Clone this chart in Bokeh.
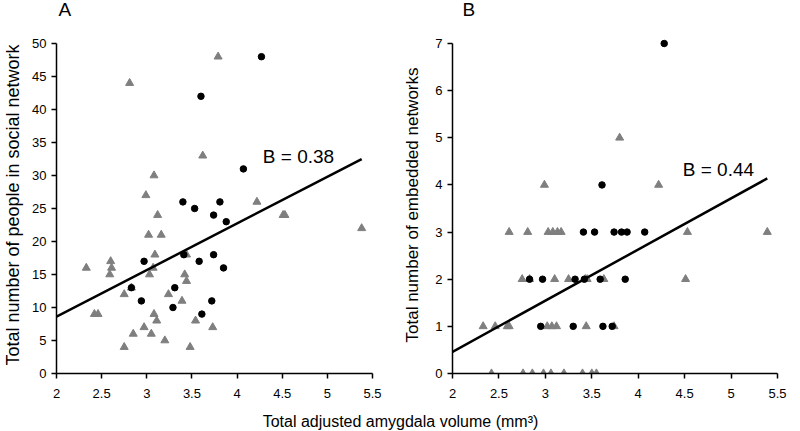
from bokeh.plotting import figure
from bokeh.layouts import row, column
from bokeh.models import Range1d, FixedTicker, NumeralTickFormatter, Label
from bokeh.embed import file_html
from bokeh.resources import INLINE
from bokeh.core.properties import value

FONT = "Liberation Sans"

# ---------------- data ----------------
x_ticks = [2, 2.5, 3, 3.5, 4, 4.5, 5, 5.5]
a_y_ticks = [0, 5, 10, 15, 20, 25, 30, 35, 40, 45, 50]
b_y_ticks = [0, 1, 2, 3, 4, 5, 6, 7]

# Panel A: circles (black)
a_circ_x = [3.40, 3.53, 3.81, 3.74, 3.88, 3.41, 2.97, 3.58, 3.74, 3.85,
            2.83, 3.31, 2.94, 3.29, 3.72, 3.61, 3.60, 4.27, 4.07]
a_circ_y = [26, 25, 26, 24, 23, 18, 17, 17, 18, 16,
            13, 13, 11, 10, 11, 9, 42, 48, 31]
# Panel A: triangles (grey)
a_tri_x = [2.99, 3.12, 4.22, 4.51, 4.53, 3.02, 3.16, 3.09, 3.44, 2.60,
           2.61, 2.59, 3.07, 3.03, 3.42, 3.44, 2.83, 2.75, 3.24, 3.39,
           3.08, 3.11, 3.54, 2.97, 3.73, 2.85, 3.05, 3.20, 2.75, 3.48,
           2.33, 2.42, 2.46, 5.38, 2.81, 3.79, 3.62, 3.08]
a_tri_y = [27, 24, 26, 24, 24, 21, 21, 18, 18, 17,
           16, 15, 16, 15, 15, 14, 13, 12, 12, 11,
           9, 8, 8, 7, 7, 6, 6, 5, 4, 4,
           16, 9, 9, 22, 44, 48, 33, 30]
a_fit_intercept_at_2 = 8.6
a_fit_slope = 7.07
a_fit_x = [2.0, 5.38]

# Panel B: circles (black)
b_circ_x = [4.28, 3.61, 3.41, 3.53, 3.74, 3.82, 3.88, 4.07, 2.83, 2.97,
            3.32, 3.42, 3.59, 3.86, 2.95, 3.30, 3.62, 3.72]
b_circ_y = [7, 4, 3, 3, 3, 3, 3, 3, 2, 2,
            2, 2, 2, 2, 1, 1, 1, 1]
# Panel B: triangles (grey)
b_tri_x = [3.80, 2.99, 4.22,
           2.61, 2.81, 3.03, 3.08, 3.13, 3.17, 4.53, 5.39,
           2.75, 2.83, 3.10, 3.25, 3.43, 3.45, 3.63, 4.51,
           2.33, 2.46, 2.59, 2.61, 3.02, 3.07, 3.12, 3.44, 3.74,
           2.42, 2.76, 2.86, 2.98, 3.06, 3.20, 3.40, 3.50, 3.55]
b_tri_y = [5, 4, 4,
           3, 3, 3, 3, 3, 3, 3, 3,
           2, 2, 2, 2, 2, 2, 2, 2,
           1, 1, 1, 1, 1, 1, 1, 1, 1,
           0, 0, 0, 0, 0, 0, 0, 0, 0]
b_fit_intercept_at_2 = 0.46
b_fit_slope = 1.085
b_fit_x = [2.0, 5.39]

panel_letters = ["A", "B"]
a_label = "B = 0.38"
b_label = "B = 0.44"
a_ylabel = "Total number of people in social network"
b_ylabel = "Total number of embedded networks"
xlabel = "Total adjusted amygdala volume (mm\u00b3)"

TOP_PAD_PX = 7      # frame extends this many px above the top tick
FRAME_PX = 330      # pixels between 0 and the top tick


def make_panel(y_axis_end, y_ticks, ylabel, ylabel_size,
               cx, cy, tx, ty, fx, b0, b1, lab, lab_x, lab_y,
               border_left, border_right, ylabel_standoff):
    y_end = y_axis_end * (1 + TOP_PAD_PX / FRAME_PX)
    p = figure(width=400, height=380, x_range=Range1d(2, 5.5), y_range=Range1d(0, y_end),
               output_backend="svg", toolbar_location=None, title=None,
               min_border_left=border_left, min_border_right=border_right,
               min_border_top=16, min_border_bottom=27)
    p.outline_line_color = None
    p.grid.visible = False
    p.background_fill_color = "white"
    p.border_fill_color = "white"

    for ax in (p.xaxis[0], p.yaxis[0]):
        ax.axis_line_color = "black"
        ax.axis_line_width = 1.5
        ax.major_tick_line_color = "black"
        ax.major_tick_line_width = 1.5
        ax.major_tick_in = 0
        ax.major_tick_out = 5
        ax.minor_tick_line_color = None
        ax.major_label_text_font = FONT
        ax.major_label_text_font_size = "13px"
        ax.major_label_text_color = "black"
        ax.axis_label_text_font = FONT
        ax.axis_label_text_font_size = ylabel_size
        ax.axis_label_text_font_style = "normal"
        ax.axis_label_text_color = "black"
    p.xaxis.ticker = FixedTicker(ticks=x_ticks)
    p.xaxis.formatter = NumeralTickFormatter(format="0.[0]")
    p.xaxis.major_label_standoff = 10
    p.yaxis.ticker = FixedTicker(ticks=y_ticks)
    p.yaxis.major_label_standoff = 5
    p.yaxis.bounds = (0, y_axis_end)
    p.yaxis.axis_label = ylabel
    p.yaxis.axis_label_standoff = ylabel_standoff

    p.scatter(tx, ty, marker="triangle", size=8, fill_color="#7f7f7f", line_color="#7f7f7f")
    p.scatter(cx, cy, marker="circle", size=6.5, fill_color="black", line_color="black")
    fy = [b0 + b1 * (x - 2.0) for x in fx]
    p.line(fx, fy, line_color="black", line_width=2.5)

    p.add_layout(Label(x=lab_x, y=lab_y, text=lab, text_font=FONT, text_font_size="19px",
                       text_color="black", text_baseline="middle", text_align="left"))
    return p


# header strip holding the panel letters
hdr = figure(width=800, height=20, x_range=Range1d(0, 800), y_range=Range1d(0, 20),
             x_axis_type=None, y_axis_type=None, output_backend="svg", toolbar_location=None,
             min_border=0, title=None)
hdr.outline_line_color = None
hdr.grid.visible = False
hdr.text(x=[58, 462], y=[11, 11], text=panel_letters, text_align="left", text_baseline="middle",
         text_font=value(FONT), text_font_size="19px", text_color="black")

p1 = make_panel(50, a_y_ticks, a_ylabel, "18px",
                a_circ_x, a_circ_y, a_tri_x, a_tri_y,
                a_fit_x, a_fit_intercept_at_2, a_fit_slope, a_label, 4.285, 32.85,
                55, 28, 6)
p2 = make_panel(7, b_y_ticks, b_ylabel, "17px",
                b_circ_x, b_circ_y, b_tri_x, b_tri_y,
                b_fit_x, b_fit_intercept_at_2, b_fit_slope, b_label, 4.48, 4.33,
                51, 23, 10)

p3 = figure(width=800, height=31, x_range=Range1d(0, 800), y_range=Range1d(0, 31),
            x_axis_type=None, y_axis_type=None, output_backend="svg", toolbar_location=None,
            min_border=0, title=None)
p3.outline_line_color = None
p3.grid.visible = False
p3.text(x=[400], y=[10], text=[xlabel], text_align="center", text_baseline="middle",
        text_font=value(FONT), text_font_size="16px", text_color="black")

layout = column(hdr, row(p1, p2), p3)
open("out.html", "w").write(file_html(layout, INLINE))
